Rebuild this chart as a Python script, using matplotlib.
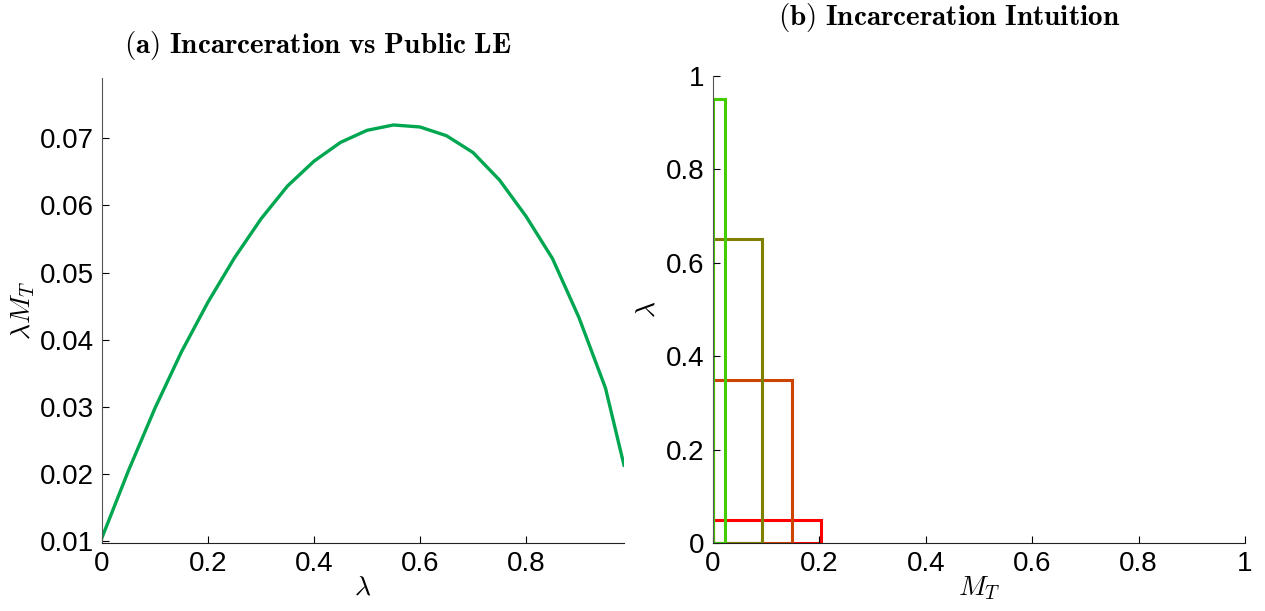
import matplotlib
matplotlib.use("Agg")
import matplotlib.pyplot as plt
from matplotlib.patches import Rectangle

plt.rcParams['font.family'] = ['Liberation Sans', 'DejaVu Sans']
plt.rcParams['mathtext.fontset'] = 'cm'

# Panel (a) data
lam = [0.0, 0.05, 0.10, 0.15, 0.20, 0.25, 0.30, 0.35, 0.40, 0.45, 0.50,
       0.55, 0.60, 0.65, 0.70, 0.75, 0.80, 0.85, 0.90, 0.95, 0.985]
lam_mt = [0.0105, 0.0205, 0.0298, 0.0382, 0.0456, 0.0522, 0.0580, 0.0629,
          0.0666, 0.0694, 0.0712, 0.0720, 0.0717, 0.0704, 0.0679, 0.0638,
          0.0584, 0.0521, 0.0433, 0.0328, 0.0213]

# Panel (b) data: rectangles (M_T width, lambda height), drawn bottom to top
rect_mt = [0.203, 0.148, 0.092, 0.0225]
rect_lam = [0.05, 0.35, 0.65, 0.95]
rect_colors = ['#ff0000', '#cc4400', '#808000', '#44cc00']

fig = plt.figure(figsize=(12.65, 6.11), dpi=100)

ax1 = fig.add_axes([102/1265, 1-543/611, (624-102)/1265, (543-78)/611])
ax1.plot(lam, lam_mt, color='#00a650', lw=2.4)
ax1.set_xlim(0, 0.985)
ax1.set_ylim(0.0097, 0.079)
ax1.set_xticks([0, 0.2, 0.4, 0.6, 0.8])
ax1.set_xticklabels(['0', '0.2', '0.4', '0.6', '0.8'])
ax1.set_yticks([0.01, 0.02, 0.03, 0.04, 0.05, 0.06, 0.07])
ax1.set_yticklabels(['0.01', '0.02', '0.03', '0.04', '0.05', '0.06', '0.07'])
ax1.set_xlabel(r'$\lambda$', fontsize=20, labelpad=-2)
ax1.set_ylabel(r'$\lambda M_T$', fontsize=20, labelpad=2)

ax2 = fig.add_axes([713/1265, 1-543/611, (1245-713)/1265, (543-76)/611])
for w, h, c in zip(rect_mt, rect_lam, rect_colors):
    ax2.add_patch(Rectangle((0, 0), w, h, fill=False, edgecolor=c, lw=2.2))
ax2.set_xlim(0, 1)
ax2.set_ylim(0, 1)
ax2.set_xticks([0, 0.2, 0.4, 0.6, 0.8, 1])
ax2.set_xticklabels(['0', '0.2', '0.4', '0.6', '0.8', '1'])
ax2.set_yticks([0, 0.2, 0.4, 0.6, 0.8, 1])
ax2.set_yticklabels(['0', '0.2', '0.4', '0.6', '0.8', '1'])
ax2.set_xlabel(r'$M_T$', fontsize=20, labelpad=-2)
ax2.set_ylabel(r'$\lambda$', fontsize=20, labelpad=4)

for ax in (ax1, ax2):
    ax.spines['top'].set_visible(False)
    ax.spines['right'].set_visible(False)
    ax.spines['left'].set_color('#555555')
    ax.spines['bottom'].set_color('#222222')
    ax.tick_params(direction='in', labelsize=20, length=5, width=0.8, pad=6)

fig.text(318/1265, 1-45/611, r'$\mathbf{(a)\ Incarceration\ vs\ Public\ LE}$',
         ha='center', va='center', fontsize=21)
fig.text(949/1265, 1-18/611, r'$\mathbf{(b)\ Incarceration\ Intuition}$',
         ha='center', va='center', fontsize=21)

fig.savefig('out.png', dpi=100)
